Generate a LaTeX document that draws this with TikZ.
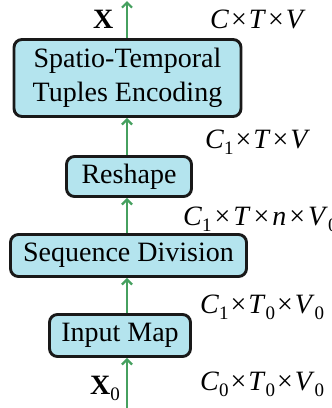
\documentclass[tikz,border=0pt]{standalone}
\usepackage{fontspec}
\setmainfont{Liberation Serif}
\usetikzlibrary{arrows.meta}
\definecolor{boxfill}{RGB}{180,228,238}
\definecolor{boxline}{RGB}{25,25,25}
\definecolor{flow}{RGB}{70,160,95}
% dimension separator and upright subscript
\newcommand{\dimx}{\kern2pt×\kern2pt}
\newcommand{\dimw}{\kern3pt×\kern3pt}
\newcommand{\lo}[1]{\raisebox{-0.22em}{\fontsize{19}{19}\selectfont\upshape #1}}
\tikzset{
  proc/.style={draw=boxline, line width=2.9pt, fill=boxfill, rounded corners=8pt,
    inner sep=0pt, align=center, font=\fontsize{28}{34}\selectfont},
  flowarrow/.style={draw=flow, line width=2.2pt, -{Straight Barb[length=5pt,width=10pt]}},
  dimlabel/.style={anchor=base west, inner sep=0pt, font=\fontsize{28}{34}\selectfont}
}
\begin{document}
\begin{tikzpicture}[x=1pt, y=-1pt]
\useasboundingbox (0,0) rectangle (332,408);

% processing blocks
\node[proc, minimum width=227, minimum height=77] (stte) at (127.5,78) {Spatio-Temporal\\Tuples Encoding};
\node[proc, minimum width=125, minimum height=40] (reshape) at (129,176.5) {Reshape};
\node[proc, minimum width=236, minimum height=42] (seqdiv) at (128.5,255.5) {Sequence Division};
\node[proc, minimum width=141, minimum height=42] (inmap) at (120,335.5) {Input Map};

% data flow axis
\coordinate (axis) at (127,0);
\coordinate (out) at (127,1);
\coordinate (in) at (127,408);

\draw[flowarrow] (in) -- (inmap.south -| axis);
\draw[flowarrow] (inmap.north -| axis) -- (seqdiv.south -| axis);
\draw[flowarrow] (seqdiv.north -| axis) -- (reshape.south -| axis);
\draw[flowarrow] (reshape.north -| axis) -- (stte.south -| axis);
\draw[flowarrow] (stte.north -| axis) -- (out);

% tensor names
\node[dimlabel] (xout) at (93,28) {\textbf{X}};
\node[dimlabel] (xin) at (90,394) {\textbf{X}\lo{0}};

% tensor shapes
\node[dimlabel] (d5) at (210,28) {\textit{C}\dimx\textit{T}\dimx\textit{V}};
\node[dimlabel] (d4) at (205,148) {\textit{C}\lo{1}\dimx\textit{T}\dimx\textit{V}};
\node[dimlabel] (d3) at (183,225) {\textit{C}\lo{1}\dimw\textit{T}\dimw\textit{n}\dimw\textit{V}\lo{0}};
\node[dimlabel] (d2) at (200,313) {\textit{C}\lo{1}\dimx\textit{T}\lo{0}\dimx\textit{V}\lo{0}};
\node[dimlabel] (d1) at (200,390) {\textit{C}\lo{0}\dimx\textit{T}\lo{0}\dimx\textit{V}\lo{0}};
\end{tikzpicture}
\end{document}
